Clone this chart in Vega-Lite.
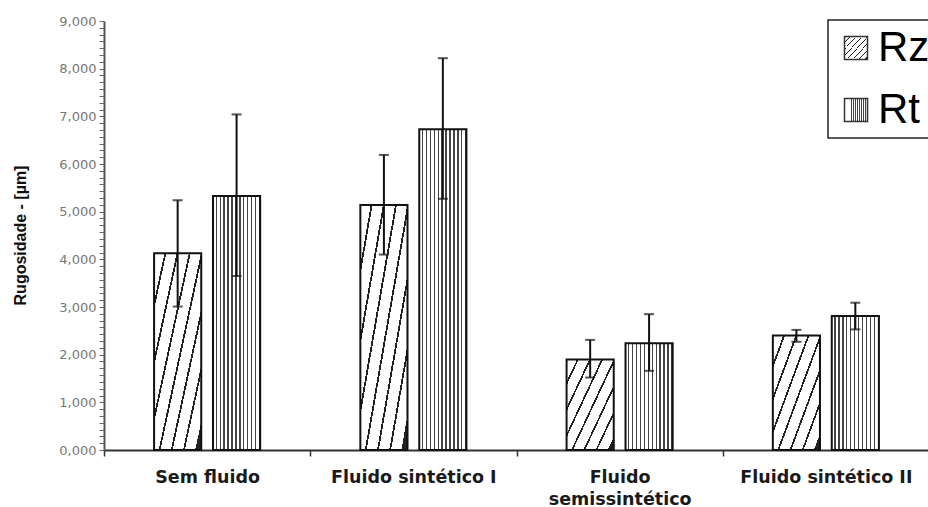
{
  "$schema": "https://vega.github.io/schema/vega-lite/v6.json",
  "autosize": {"type": "none"},
  "width": 825,
  "height": 429,
  "padding": {"left": 104, "top": 21, "right": 0, "bottom": 57},
  "background": "white",
  "config": {"view": {"stroke": null}},
  "resolve": {"axis": {"y": "independent"}},
  "data": {
    "values": [
      {"fluido": "Sem fluido", "param": "Rz", "media": 4.13, "inf": 3.01, "sup": 5.24},
      {"fluido": "Sem fluido", "param": "Rt", "media": 5.33, "inf": 3.65, "sup": 7.04},
      {"fluido": "Fluido sintético I", "param": "Rz", "media": 5.14, "inf": 4.10, "sup": 6.19},
      {"fluido": "Fluido sintético I", "param": "Rt", "media": 6.73, "inf": 5.27, "sup": 8.22},
      {"fluido": "Fluido semissintético", "param": "Rz", "media": 1.90, "inf": 1.52, "sup": 2.31},
      {"fluido": "Fluido semissintético", "param": "Rt", "media": 2.24, "inf": 1.66, "sup": 2.85},
      {"fluido": "Fluido sintético II", "param": "Rz", "media": 2.40, "inf": 2.27, "sup": 2.52},
      {"fluido": "Fluido sintético II", "param": "Rt", "media": 2.81, "inf": 2.53, "sup": 3.09}
    ]
  },
  "encoding": {
    "x": {
      "field": "fluido",
      "type": "nominal",
      "sort": ["Sem fluido", "Fluido sintético I", "Fluido semissintético", "Fluido sintético II"],
      "scale": {"paddingInner": 0, "paddingOuter": 0},
      "axis": {
        "title": null,
        "labelAngle": 0,
        "tickBand": "extent",
        "tickSize": 6,
        "tickColor": "#333",
        "tickWidth": 1.5,
        "domainColor": "#333",
        "domainWidth": 2,
        "labelFont": "DejaVu Sans",
        "labelFontWeight": "bold",
        "labelFontSize": 17.5,
        "labelColor": "#1a1a1a",
        "labelBaseline": "alphabetic",
        "labelPadding": 26,
        "labelLineHeight": 22,
        "labelExpr": "datum.value == 'Fluido semissintético' ? ['Fluido', 'semissintético'] : datum.value"
      }
    },
    "xOffset": {
      "field": "param",
      "type": "nominal",
      "sort": ["Rz", "Rt"],
      "scale": {"domain": ["Rz", "Rt"], "paddingInner": 0.2, "paddingOuter": 0.85}
    }
  },
  "layer": [
    {
      "mark": {"type": "bar", "stroke": "#111", "strokeWidth": 2},
      "encoding": {
        "y": {
          "field": "media",
          "type": "quantitative",
          "scale": {"domain": [0, 9], "nice": false, "zero": true},
          "axis": {
            "orient": "left",
            "title": "Rugosidade - [µm]",
            "titleFont": "Liberation Sans",
            "titleFontWeight": "bold",
            "titleFontSize": 16,
            "titleColor": "#111",
            "titleAngle": -90,
            "titleX": -84,
            "titleY": 214,
            "titleAlign": "center",
            "titleBaseline": "middle",
            "grid": false,
            "domainColor": "#555",
            "domainWidth": 2,
            "tickColor": "#666",
            "tickWidth": 1,
            "tickSize": 5,
            "labelFont": "DejaVu Sans",
            "labelFontSize": 13,
            "labelColor": "#777",
            "labelPadding": 3,
            "labelOverlap": false,
            "labelFlush": false,
            "values": [0, 1, 2, 3, 4, 5, 6, 7, 8, 9],
            "labelExpr": "replace(format(datum.value, '.3f'), '.', ',')"
          }
        },
        "fill": {
          "field": "param",
          "type": "nominal",
          "scale": {
            "domain": ["Rz", "Rt"],
            "range": [
              {"expr": "{gradient: 'linear', x1: 0, y1: 0, x2: 1, y2: 0.9, stops: [{offset: 0, color: '#ffffff'}, {offset: 0.121429, color: '#ffffff'}, {offset: 0.121429, color: '#222222'}, {offset: 0.142857, color: '#222222'}, {offset: 0.142857, color: '#ffffff'}, {offset: 0.264286, color: '#ffffff'}, {offset: 0.264286, color: '#222222'}, {offset: 0.285714, color: '#222222'}, {offset: 0.285714, color: '#ffffff'}, {offset: 0.407143, color: '#ffffff'}, {offset: 0.407143, color: '#222222'}, {offset: 0.428571, color: '#222222'}, {offset: 0.428571, color: '#ffffff'}, {offset: 0.55, color: '#ffffff'}, {offset: 0.55, color: '#222222'}, {offset: 0.571429, color: '#222222'}, {offset: 0.571429, color: '#ffffff'}, {offset: 0.692857, color: '#ffffff'}, {offset: 0.692857, color: '#222222'}, {offset: 0.714286, color: '#222222'}, {offset: 0.714286, color: '#ffffff'}, {offset: 0.835714, color: '#ffffff'}, {offset: 0.835714, color: '#222222'}, {offset: 0.857143, color: '#222222'}, {offset: 0.857143, color: '#ffffff'}, {offset: 0.978571, color: '#ffffff'}, {offset: 0.978571, color: '#222222'}, {offset: 1, color: '#222222'}]}"},
              {"expr": "{gradient: 'linear', x1: 0, y1: 0, x2: 1, y2: 0, stops: [{offset: 0, color: '#ffffff'}, {offset: 0.05417, color: '#ffffff'}, {offset: 0.05417, color: '#444444'}, {offset: 0.08333, color: '#444444'}, {offset: 0.08333, color: '#ffffff'}, {offset: 0.1375, color: '#ffffff'}, {offset: 0.1375, color: '#444444'}, {offset: 0.16667, color: '#444444'}, {offset: 0.16667, color: '#ffffff'}, {offset: 0.22083, color: '#ffffff'}, {offset: 0.22083, color: '#444444'}, {offset: 0.25, color: '#444444'}, {offset: 0.25, color: '#ffffff'}, {offset: 0.30417, color: '#ffffff'}, {offset: 0.30417, color: '#444444'}, {offset: 0.33333, color: '#444444'}, {offset: 0.33333, color: '#ffffff'}, {offset: 0.3875, color: '#ffffff'}, {offset: 0.3875, color: '#444444'}, {offset: 0.41667, color: '#444444'}, {offset: 0.41667, color: '#ffffff'}, {offset: 0.47083, color: '#ffffff'}, {offset: 0.47083, color: '#444444'}, {offset: 0.5, color: '#444444'}, {offset: 0.5, color: '#ffffff'}, {offset: 0.55417, color: '#ffffff'}, {offset: 0.55417, color: '#444444'}, {offset: 0.58333, color: '#444444'}, {offset: 0.58333, color: '#ffffff'}, {offset: 0.6375, color: '#ffffff'}, {offset: 0.6375, color: '#444444'}, {offset: 0.66667, color: '#444444'}, {offset: 0.66667, color: '#ffffff'}, {offset: 0.72083, color: '#ffffff'}, {offset: 0.72083, color: '#444444'}, {offset: 0.75, color: '#444444'}, {offset: 0.75, color: '#ffffff'}, {offset: 0.80417, color: '#ffffff'}, {offset: 0.80417, color: '#444444'}, {offset: 0.83333, color: '#444444'}, {offset: 0.83333, color: '#ffffff'}, {offset: 0.8875, color: '#ffffff'}, {offset: 0.8875, color: '#444444'}, {offset: 0.91667, color: '#444444'}, {offset: 0.91667, color: '#ffffff'}, {offset: 0.97083, color: '#ffffff'}, {offset: 0.97083, color: '#444444'}, {offset: 1, color: '#444444'}]}"}
            ]
          },
          "legend": {
            "title": null,
            "orient": "none",
            "legendX": 724,
            "legendY": -1,
            "strokeColor": "#222",
            "padding": 7,
            "symbolOffset": 0,
            "symbolType": "square",
            "symbolSize": 529,
            "symbolStrokeColor": "#333",
            "symbolStrokeWidth": 1.5,
            "labelFont": "Liberation Sans",
            "labelFontSize": 42,
            "labelColor": "#000",
            "labelOffset": 1,
            "rowPadding": 20,
            "labelLimit": 300,
            "encode": {
              "legend": {"update": {"strokeWidth": {"value": 1.5}}}
            }
          }
        }
      }
    },
    {
      "mark": {"type": "rule", "color": "#111", "strokeWidth": 2},
      "encoding": {
        "y": {
          "field": "inf",
          "type": "quantitative",
          "axis": {
            "orient": "left",
            "title": null,
            "labels": false,
            "domain": false,
            "grid": false,
            "tickColor": "#666",
            "tickWidth": 1,
            "tickSize": 5,
            "values": [0.1429, 0.2857, 0.4286, 0.5714, 0.7143, 0.8571, 1.1429, 1.2857, 1.4286, 1.5714, 1.7143, 1.8571, 2.1429, 2.2857, 2.4286, 2.5714, 2.7143, 2.8571, 3.1429, 3.2857, 3.4286, 3.5714, 3.7143, 3.8571, 4.1429, 4.2857, 4.4286, 4.5714, 4.7143, 4.8571, 5.1429, 5.2857, 5.4286, 5.5714, 5.7143, 5.8571, 6.1429, 6.2857, 6.4286, 6.5714, 6.7143, 6.8571, 7.1429, 7.2857, 7.4286, 7.5714, 7.7143, 7.8571, 8.1429, 8.2857, 8.4286, 8.5714, 8.7143, 8.8571]
          }
        },
        "y2": {"field": "sup"}
      }
    },
    {
      "mark": {"type": "tick", "color": "#111", "size": 10, "thickness": 2},
      "encoding": {"y": {"field": "sup", "type": "quantitative", "axis": null}}
    },
    {
      "mark": {"type": "tick", "color": "#111", "size": 10, "thickness": 2},
      "encoding": {"y": {"field": "inf", "type": "quantitative", "axis": null}}
    }
  ]
}
